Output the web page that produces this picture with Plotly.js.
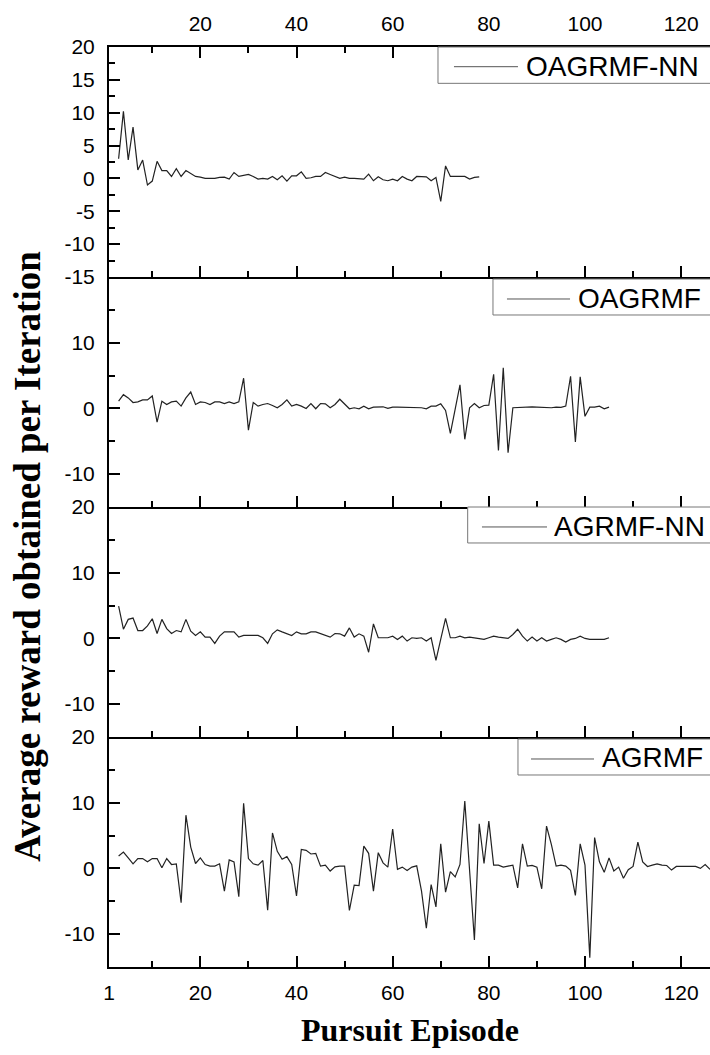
<!DOCTYPE html>
<html><head><meta charset="utf-8">
<script src="https://cdn.plot.ly/plotly-3.0.1.min.js"></script>
<style>html,body{margin:0;padding:0;background:#fff;}#chart{width:710px;height:1055px;}</style>
</head><body><div id="chart"></div>
<script>
const seriesNames = ['OAGRMF-NN', 'OAGRMF', 'AGRMF-NN', 'AGRMF'];
const firstEpisode = 3;
const oagrmfNN = [3.0, 10.2, 2.8, 7.8, 1.3, 2.8, -1.0, -0.4, 2.6, 1.2,
  1.2, 0.3, 1.5, 0.3, 1.2, 0.7, 0.3, 0.2, 0.0, 0.0,
  0.0, 0.15, 0.2, -0.1, 0.9, 0.3, 0.4, 0.6, 0.3, -0.1,
  0.0, -0.1, 0.3, -0.2, 0.4, -0.4, 0.4, 0.4, 1.0, 0.0,
  0.1, 0.3, 0.3, 0.9, 0.6, 0.3, 0.0, 0.2, 0.0, 0.0,
  0.0, -0.1, 0.65, -0.35, 0.25, -0.2, -0.35, -0.1, -0.35, 0.3,
  -0.1, -0.35, 0.3, 0.3, 0.25, -0.35, 0.15, -3.5, 1.9, 0.3,
  0.3, 0.3, 0.3, -0.1, 0.15, 0.25];
const oagrmf = [1.1, 2.1, 1.6, 0.9, 1.0, 1.3, 1.3, 1.9, -2.1, 1.1,
  0.6, 1.0, 1.1, 0.35, 1.6, 2.5, 0.6, 1.0, 0.9, 0.6,
  1.0, 1.0, 0.75, 1.0, 0.75, 1.0, 4.6, -3.3, 0.9, 0.35,
  0.6, 0.75, 0.45, 0.1, 0.6, 1.3, 0.35, 0.6, 0.35, 0.0,
  0.75, -0.05, 0.75, 0.7, 0.1, 0.6, 1.4, 0.6, -0.05, 0.1,
  -0.05, 0.35, -0.05, 0.2, 0.25, 0.25, 0.0, 0.2, 0.2, 0.2,
  0.2, 0.1, 0.1, 0.1, -0.05, 0.35, 0.35, 0.7, -0.3, -3.8,
  -0.1, 3.6, -4.7, 0.1, 0.75, 0.1, 0.45, 0.5, 5.2, -6.4,
  6.2, -6.75, 0.1, 0.15, 0.2, 0.15, 0.25, 0.2, 0.15, 0.2,
  0.1, 0.2, 0.15, 0.35, 4.9, -5.1, 4.8, -1.2, 0.2, 0.2,
  0.35, -0.05, 0.2];
const agrmfNN = [4.9, 1.4, 2.9, 3.1, 1.2, 1.2, 1.9, 3.0, 0.75, 2.9,
  1.5, 0.75, 1.2, 1.0, 2.9, 1.1, 0.45, 1.0, 0.2, 0.2,
  -0.75, 0.35, 1.0, 1.0, 1.0, 0.2, 0.45, 0.45, 0.45, 0.45,
  0.1, -0.75, 0.7, 1.3, 1.0, 0.7, 0.45, 1.0, 0.7, 0.7,
  1.0, 1.0, 0.75, 0.45, 0.2, 0.75, 0.7, 0.35, 1.6, 0.2,
  0.7, 0.35, -2.1, 2.2, 0.1, 0.1, 0.1, 0.35, -0.15, 0.35,
  -0.4, 0.1, 0.0, 0.1, -0.4, 0.1, -3.35, -0.1, 3.05, 0.1,
  0.1, 0.35, 0.1, 0.2, 0.1, 0.0, -0.15, 0.1, 0.35, 0.2,
  0.1, 0.0, 0.6, 1.4, 0.35, -0.4, 0.2, -0.4, 0.1, -0.4,
  -0.15, 0.1, -0.15, -0.55, -0.15, 0.0, 0.35, 0.0, -0.15, -0.15,
  -0.15, -0.15, 0.1];
const agrmf = [1.9, 2.5, 1.6, 0.7, 1.5, 1.5, 1.0, 1.5, 1.5, 0.1,
  1.5, 0.6, 0.7, -5.2, 8.1, 3.25, 0.75, 1.6, 0.6, 0.35,
  0.35, 0.7, -3.45, 1.3, 1.0, -4.3, 9.9, 1.5, 0.7, 0.5,
  1.2, -6.35, 5.4, 2.6, 1.4, 1.8, 0.6, -4.2, 2.9, 2.75,
  2.2, 2.3, 0.35, 0.5, -0.4, 0.25, 0.35, 0.35, -6.4, -2.55,
  -2.6, 3.4, 2.3, -3.45, 2.4, 0.85, 0.2, 6.0, -0.15, 0.2,
  -0.3, 0.2, 0.4, -3.45, -9.1, -2.45, -5.85, 3.75, -3.6, -0.5,
  -1.3, 0.6, 10.25, -0.3, -10.9, 6.8, 0.75, 7.2, 0.5, 0.5,
  0.2, 0.35, 0.5, -2.95, 3.75, 0.35, 0.45, 0.2, -3.1, 6.45,
  3.65, 0.35, 0.5, 0.35, -0.3, -4.1, 3.75, 0.5, -13.6, 4.7,
  1.0, -0.6, 1.6, -0.4, 0.2, -1.5, -0.2, 0.3, 4.0, 1.0,
  0.3, 0.5, 0.7, 0.5, 0.45, -0.25, 0.3, 0.3, 0.3, 0.3,
  0.3, 0.0, 0.6, -0.15];

const xBottomTickVals = [1, 20, 40, 60, 80, 100, 120];
const xBottomTickText = ['1', '20', '40', '60', '80', '100', '120'];
const xTopTickVals = [20, 40, 60, 80, 100, 120];
const xTopTickText = ['20', '40', '60', '80', '100', '120'];
const xMinorVals = [10, 30, 50, 70, 90, 110];
const y1TickVals = [-15, -10, -5, 0, 5, 10, 15, 20];
const y1TickText = ['-15', '-10', '-5', '0', '5', '10', '15', '20'];
const y1MinorVals = [-12.5, -7.5, -2.5, 2.5, 7.5, 12.5, 17.5];
const y2TickVals = [-10, 0, 10];
const y2TickText = ['-10', '0', '10'];
const y34TickVals = [-10, 0, 10, 20];
const y34TickText = ['-10', '0', '10', '20'];
const yMinorVals = [-5, 5, 15];

const lineStyle = {color: '#222', width: 1.2};
const tickFont = {family: 'Liberation Sans, Arial, sans-serif', size: 21, color: '#000'};
const legFont = {family: 'Liberation Sans, Arial, sans-serif', size: 28, color: '#000'};

const data = [
  {type: 'scatter', mode: 'lines', name: seriesNames[0], y: oagrmfNN, x0: firstEpisode, dx: 1, xaxis: 'x4', yaxis: 'y', showlegend: false, line: lineStyle},
  {type: 'scatter', mode: 'lines', name: seriesNames[1], y: oagrmf, x0: firstEpisode, dx: 1, xaxis: 'x3', yaxis: 'y2', showlegend: false, line: lineStyle},
  {type: 'scatter', mode: 'lines', name: seriesNames[2], y: agrmfNN, x0: firstEpisode, dx: 1, xaxis: 'x2', yaxis: 'y3', showlegend: false, line: lineStyle},
  {type: 'scatter', mode: 'lines', name: seriesNames[3], y: agrmf, x0: firstEpisode, dx: 1, xaxis: 'x', yaxis: 'y4', showlegend: false, line: lineStyle}
];

function xAxis(anchor, extra) {
  return Object.assign({
    anchor: anchor, domain: [0, 1], range: [1, 126], showline: true, linecolor: '#000', linewidth: 2,
    ticks: 'inside', ticklen: 11, tickwidth: 2, tickcolor: '#000', showgrid: false, zeroline: false,
    tickmode: 'array', tickvals: xBottomTickVals, ticktext: xBottomTickText, showticklabels: false,
    tickfont: tickFont, ticklabelstandoff: 6,
    minor: {tickmode: 'array', tickvals: xMinorVals, ticks: 'inside', ticklen: 6, tickwidth: 2, tickcolor: '#000', showgrid: false}
  }, extra || {});
}
function yAxis(domain, vals, text, minorVals) {
  return {
    domain: domain, anchor: 'x', range: [-15, 20], showline: true, linecolor: '#000', linewidth: 2,
    ticks: 'inside', ticklen: 11, tickwidth: 2, tickcolor: '#000', showgrid: false, zeroline: false,
    tickmode: 'array', tickvals: vals, ticktext: text, tickfont: tickFont, ticklabelstandoff: 8,
    minor: {tickmode: 'array', tickvals: minorVals, ticks: 'inside', ticklen: 6, tickwidth: 2, tickcolor: '#000', showgrid: false}
  };
}

// legend boxes (paper coordinates): [boxLeft, boxBottom, boxTop, lineStart, lineEnd, lineY, textX, textY]
const legendBoxes = [
  [0.5474, 0.9605, 1.0, 0.5740, 0.6805, 0.9786, 0.6922, 0.9783],
  [0.6389, 0.7087, 0.7478, 0.6622, 0.7671, 0.7261, 0.7787, 0.7268],
  [0.5968, 0.4609, 0.5, 0.6206, 0.7288, 0.4783, 0.7388, 0.4793],
  [0.6805, 0.2087, 0.2478, 0.7022, 0.8070, 0.2261, 0.8186, 0.2272]
];
const shapes = [];
const annotations = [];
legendBoxes.forEach(function (b, i) {
  shapes.push({type: 'rect', xref: 'paper', yref: 'paper', x0: b[0], x1: 1.05, y0: b[1], y1: b[2],
    fillcolor: '#fff', line: {color: '#777', width: 1}, layer: 'above'});
  shapes.push({type: 'line', xref: 'paper', yref: 'paper', x0: b[3], x1: b[4], y0: b[5], y1: b[5],
    line: {color: '#555', width: 1}, layer: 'above'});
  annotations.push({text: seriesNames[i], xref: 'paper', yref: 'paper', x: b[6], y: b[7],
    xanchor: 'left', yanchor: 'middle', showarrow: false, borderpad: 0, font: legFont});
});
annotations.push({text: 'Average reward obtained per Iteration', xref: 'paper', yref: 'paper', x: -0.135, y: 0.447,
  xanchor: 'center', yanchor: 'middle', textangle: -90, showarrow: false,
  font: {family: 'Liberation Serif, Times New Roman, serif', size: 37, weight: 'bold', color: '#000'}});
annotations.push({text: 'Pursuit Episode', xref: 'paper', yref: 'paper', x: 0.5, y: -0.068,
  xanchor: 'center', yanchor: 'middle', showarrow: false,
  font: {family: 'Liberation Serif, Times New Roman, serif', size: 32, weight: 'bold', color: '#000'}});

const layout = {
  width: 710, height: 1055,
  margin: {l: 109, r: 0, t: 47, b: 88, autoexpand: false},
  paper_bgcolor: '#fff', plot_bgcolor: 'rgba(0,0,0,0)',
  showlegend: false,
  xaxis: xAxis('y4', {showticklabels: true}),
  xaxis2: xAxis('y3'),
  xaxis3: xAxis('y2'),
  xaxis4: xAxis('y', {side: 'top', mirror: 'ticks', showticklabels: true, tickvals: xTopTickVals, ticktext: xTopTickText}),
  yaxis: yAxis([0.75, 1], y1TickVals, y1TickText, y1MinorVals),
  yaxis2: yAxis([0.5, 0.75], y2TickVals, y2TickText, yMinorVals),
  yaxis3: yAxis([0.25, 0.5], y34TickVals, y34TickText, yMinorVals),
  yaxis4: yAxis([0, 0.25], y34TickVals, y34TickText, yMinorVals),
  shapes: shapes,
  annotations: annotations
};

Plotly.newPlot('chart', data, layout, {displayModeBar: false, staticPlot: true});
</script>
</body></html>
